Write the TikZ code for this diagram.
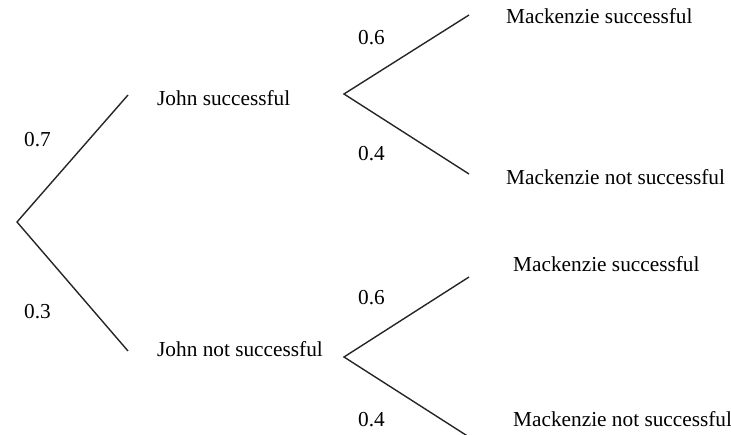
\documentclass[tikz,border=0pt]{standalone}
\usepackage{fontspec}
\setmainfont{Liberation Serif}
\begin{document}
\begin{tikzpicture}[x=1pt,y=-1pt,
  lbl/.style={anchor=base west,inner sep=0pt,font=\fontsize{21.3}{25}\selectfont},
  branch/.style={line width=1.4pt,color=black!85}]
\useasboundingbox (0,0) rectangle (731,435);
% points
\coordinate (r) at (17,222);
\coordinate (a) at (128,95);
\coordinate (b) at (128,351);
\coordinate (a0) at (344,94);
\coordinate (a1) at (469,15);
\coordinate (a2) at (469,174);
\coordinate (b0) at (344,357);
\coordinate (b1) at (469,277);
\coordinate (b2) at (469,437);
% texts
\node[lbl] (js) at (157,106) {John successful};
\node[lbl] (jn) at (157,357) {John not successful};
\node[lbl] (ms1) at (506,24) {Mackenzie successful};
\node[lbl] (mn1) at (506,185) {Mackenzie not successful};
\node[lbl] (ms2) at (513,272) {Mackenzie successful};
\node[lbl] (mn2) at (513,427) {Mackenzie not successful};
\node[lbl] (p7) at (24,147) {0.7};
\node[lbl] (p3) at (24,319) {0.3};
\node[lbl] (p6a) at (358,45) {0.6};
\node[lbl] (p4a) at (358,161) {0.4};
\node[lbl] (p6b) at (358,305) {0.6};
\node[lbl] (p4b) at (358,427) {0.4};
% branches
\draw[branch] (a) -- (r) -- (b);
\draw[branch] (a1) -- (a0) -- (a2);
\draw[branch] (b1) -- (b0) -- (b2);
\end{tikzpicture}
\end{document}
